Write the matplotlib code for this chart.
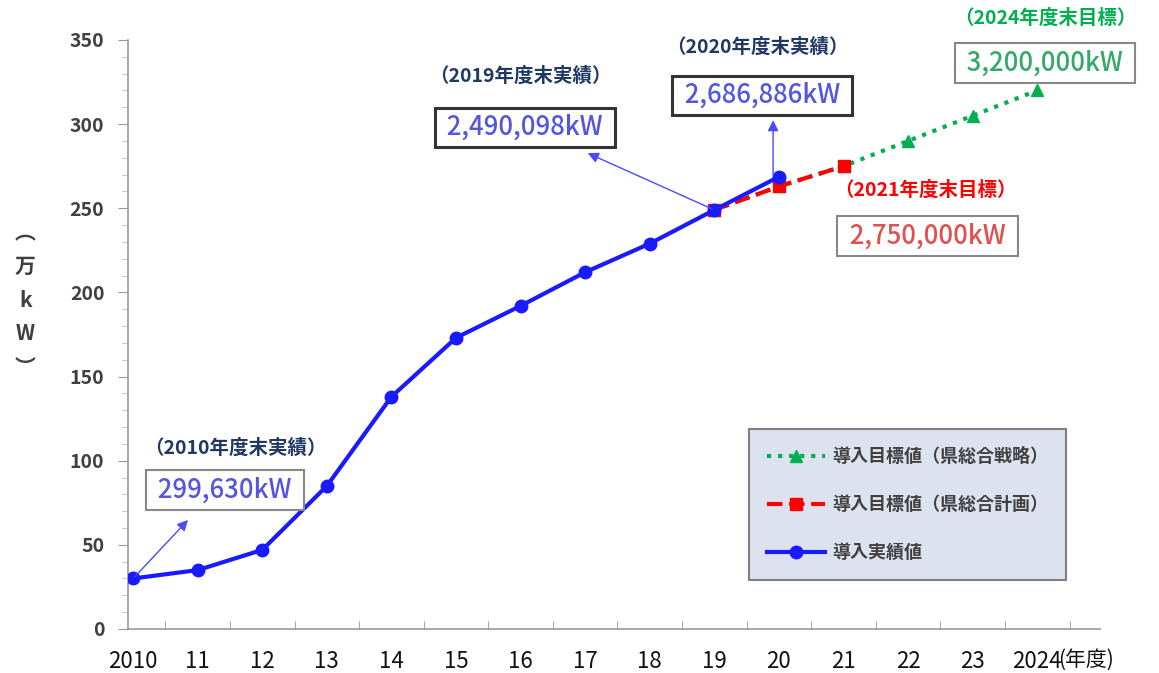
import matplotlib
matplotlib.use("Agg")
import matplotlib.pyplot as plt
from matplotlib.ticker import MultipleLocator

plt.rcParams["font.family"] = ["Noto Sans CJK JP", "DejaVu Sans"]

# data (万kW)
years = ["2010", "11", "12", "13", "14", "15", "16", "17", "18", "19", "20", "21", "22", "23", "2024"]
actual = [30.0, 35, 47, 85, 138, 173, 192, 212, 229, 249, 268.7]
plan_x = [9, 10, 11]
plan = [249, 263, 275]
strat_x = [9, 10, 11, 12, 13, 14]
strat = [249, 263, 275, 290, 305, 320]

fig = plt.figure(figsize=(11.59, 6.73), dpi=100)
ax = fig.add_axes([0.1104, 0.0654, 0.8386, 0.8752])

ax.plot(strat_x, strat, color="#00b050", linestyle=":", linewidth=3,
        marker="^", markersize=9, label="導入目標値（県総合戦略）", zorder=3)
ax.plot(plan_x, plan, color="#ff0000", linestyle="--", linewidth=3,
        marker="s", markersize=8, label="導入目標値（県総合計画）", zorder=4)
ax.plot(range(len(actual)), actual, color="#1a1aff", linestyle="-", linewidth=3,
        marker="o", markersize=9, label="導入実績値", zorder=5)

ax.set_xlim(-0.08, 14.97)
ax.set_ylim(0, 350)
ax.set_xticks(range(len(years)))
ax.set_xticklabels(years, fontsize=16, color="#111111")
ax.set_xticks([i + 0.5 for i in range(15)], minor=True)
ax.tick_params(axis="x", which="major", length=0, pad=15)
ax.tick_params(axis="x", which="minor", length=6, color="#999999", direction="in")
ax.yaxis.set_major_locator(MultipleLocator(50))
ax.yaxis.set_minor_locator(MultipleLocator(10))
ax.tick_params(axis="y", which="major", length=7, color="#999999", labelsize=14,
               labelcolor="#404040", pad=10)
ax.tick_params(axis="y", which="minor", length=4, color="#bbbbbb")
for lab in ax.get_yticklabels():
    lab.set_fontweight("bold")
for s in ["top", "right"]:
    ax.spines[s].set_visible(False)
for s in ["left", "bottom"]:
    ax.spines[s].set_color("#999999")
    ax.spines[s].set_linewidth(1.2)

ax.text(14.33, -0.052, "(年度)", transform=ax.get_xaxis_transform(),
        fontsize=15, color="#111111", ha="left", va="center")

fig.text(0.022, 0.554, "︵\n万\nk\nW\n︶", fontsize=15, fontweight="bold",
         color="#404040", ha="center", va="center", linespacing=1.75)

# annotations
navy = "#1f3864"
def label_box(x, y, txt, tcolor, ecolor, lw):
    ax.text(x, y, " " + txt + " ", fontsize=18.5, color=tcolor, ha="center", va="center",
            fontweight="medium",
            bbox=dict(boxstyle="square,pad=0.25", facecolor="white",
                      edgecolor=ecolor, linewidth=lw), zorder=6, clip_on=False)

def arrow(x0, y0, x1, y1):
    ax.annotate("", xy=(x1, y1), xytext=(x0, y0), annotation_clip=False,
                arrowprops=dict(arrowstyle="-|>", color="#4a4aff", lw=1,
                                mutation_scale=16), zorder=6)

def title(x, y, txt, color):
    ax.text(x, y, txt, fontsize=14, color=color, ha="center", va="center",
            fontweight="bold", clip_on=False)

title(1.58, 107.5, "（2010年度末実績）", navy)
label_box(1.42, 82.6, "299,630kW", "#5555dd", "#888888", 1.5)
arrow(0, 30, 0.88, 66)

title(5.99, 328.6, "（2019年度末実績）", navy)
label_box(6.07, 298, "2,490,098kW", "#5555dd", "#333333", 2.2)
arrow(9, 249, 7.0, 283.4)

title(9.66, 345.8, "（2020年度末実績）", navy)
label_box(9.74, 317, "2,686,886kW", "#5555dd", "#333333", 2.2)
arrow(9.91, 268, 9.91, 304)

title(12.26, 260.8, "（2021年度末目標）", "#ff0000")
label_box(12.3, 233.5, "2,750,000kW", "#e05050", "#888888", 1.5)

title(14.12, 363, "（2024年度末目標）", "#00b050")
label_box(14.12, 336.3, "3,200,000kW", "#33aa66", "#888888", 1.5)

leg = ax.legend(loc="upper left", bbox_to_anchor=(0.63, 0.0866, 0.344, 0.268),
                mode="expand", fontsize=13, labelspacing=1.6, borderpad=1.0,
                handlelength=3.2, handletextpad=0.4, fancybox=False, framealpha=1,
                facecolor="#dde3ee", edgecolor="#808080")
leg.get_frame().set_linewidth(1.5)
for t in leg.get_texts():
    t.set_color("#404040")
    t.set_fontweight("bold")

fig.savefig("out.png", dpi=100)
